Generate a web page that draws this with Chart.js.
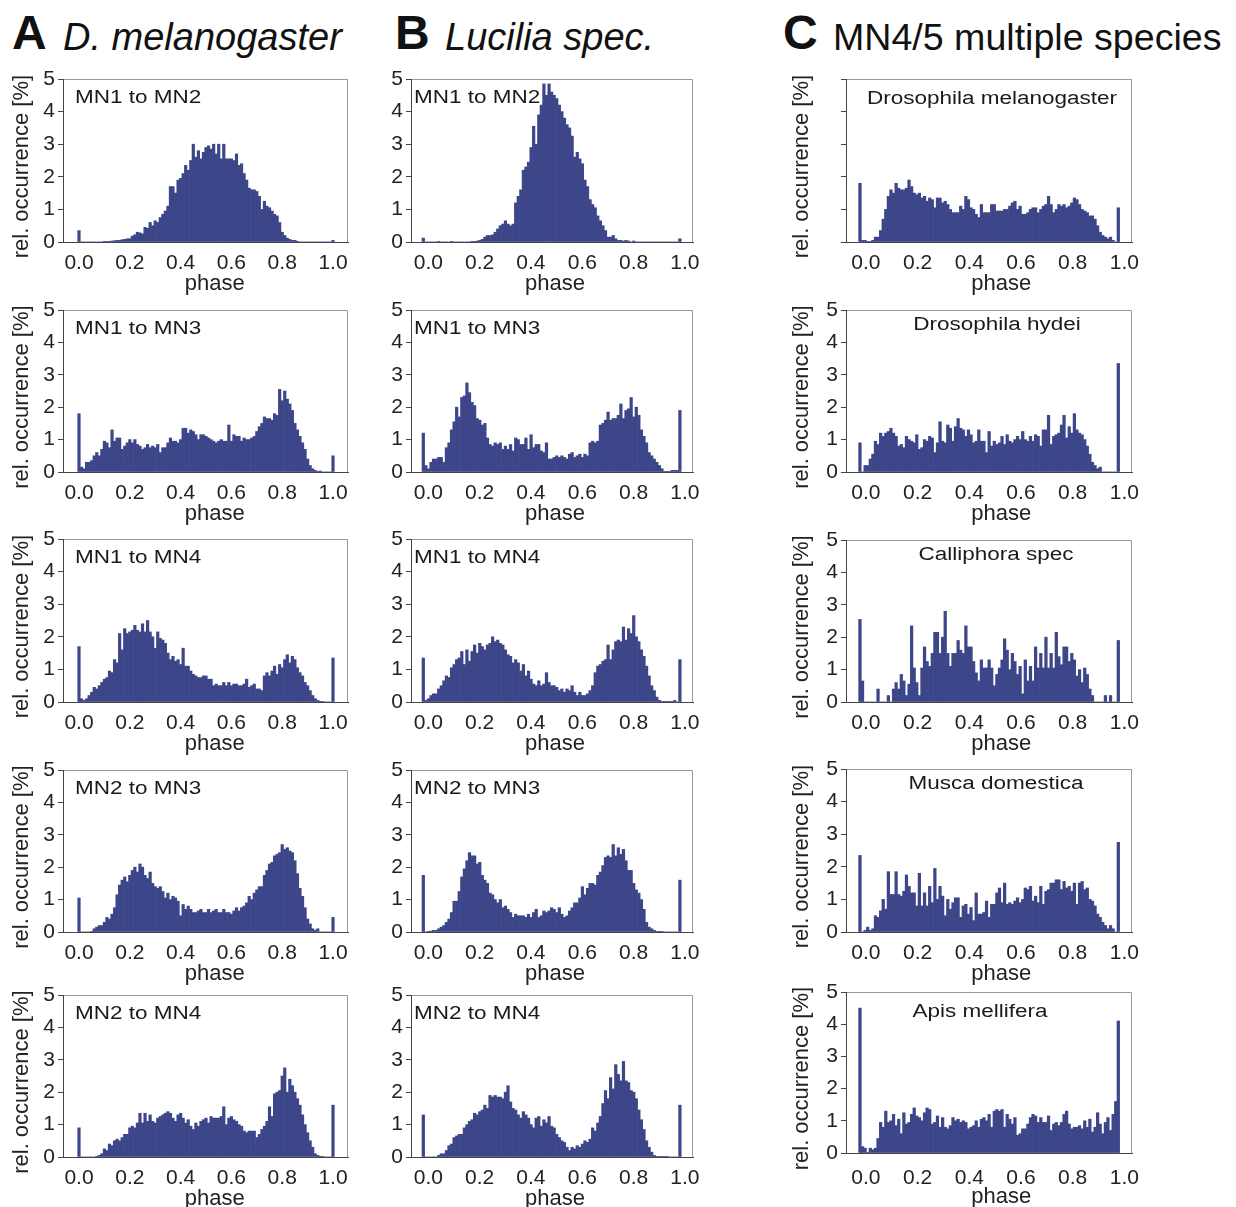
<!DOCTYPE html>
<html lang="en">
<head>
    <meta charset="UTF-8">
    <title>Phase histograms</title>
    <script src="https://cdn.jsdelivr.net/npm/chart.js"></script>
    <style>
        body { margin: 0; background: #fff; }
        #fig { position: relative; width: 1236px; height: 1207px; overflow: hidden; font-family: 'Liberation Sans', Arial, sans-serif; color: #111; }
        .letter { position: absolute; top: 9px; font-size: 48px; line-height: 48px; font-weight: bold; }
        .head { position: absolute; top: 18px; font-size: 38px; line-height: 38px; white-space: nowrap; }
    </style>
</head>
<body>
<div id="fig">
    <div class="letter" style="left:12px">A</div>
    <div class="head" style="left:63px"><i>D. melanogaster</i></div>
    <div class="letter" style="left:395px">B</div>
    <div class="head" style="left:445px"><i>Lucilia spec.</i></div>
    <div class="letter" style="left:783px">C</div>
    <div class="head" style="left:833px;font-size:37.6px">MN4/5 multiple species</div>
</div>

<script>
    // phase bins: 0.00 ... 1.00, one bar per 0.01
    const phaseBins = Array.from({ length: 101 }, (_, i) => i / 100);
    const xTicks = [0, 0.2, 0.4, 0.6, 0.8, 1.0];
    const yTicks = [0, 1, 2, 3, 4, 5];

    // rel. occurrence [%] per bin
    // column A: D. melanogaster
    const dmelMN1toMN2 = [
        0.35, 0, 0, 0, 0, 0, 0, 0, 0, 0,
        0.02, 0.02, 0.02, 0.03, 0.04, 0.05, 0.05, 0.07, 0.08, 0.1,
        0.1, 0.18, 0.22, 0.3, 0.28, 0.25, 0.45, 0.42, 0.6, 0.5,
        0.65, 0.6, 0.75, 0.85, 0.95, 1.1, 1.7, 1.7, 1.5, 1.9,
        1.95, 2.1, 2.35, 2.2, 2.5, 3.0, 2.6, 2.8, 2.55, 2.75,
        2.9, 2.95, 2.85, 3.0, 2.7, 3.0, 2.55, 3.0, 2.55, 2.55,
        2.55, 2.5, 2.7, 2.35, 2.4, 2.1, 1.9, 1.65, 1.6, 1.6,
        1.55, 1.4, 1.0, 1.25, 1.1, 1.05, 0.95, 0.85, 0.8, 0.6,
        0.3, 0.2, 0.12, 0.08, 0.05, 0.05, 0.02, 0, 0, 0,
        0, 0, 0, 0, 0, 0, 0, 0, 0, 0,
        0.05];
    const dmelMN1toMN3 = [
        1.8, 0.15, 0.1, 0.3, 0.3, 0.35, 0.5, 0.6, 0.5, 0.7,
        0.95, 0.9, 0.75, 1.3, 0.95, 1.05, 1.05, 0.7, 0.8, 0.9,
        1.0, 0.9, 1.0, 0.85, 0.8, 0.7, 0.75, 0.85, 0.75, 0.8,
        0.75, 0.85, 0.6, 0.75, 0.75, 0.9, 1.05, 0.95, 0.95, 0.9,
        1.0, 1.35, 1.35, 1.2, 1.3, 1.25, 1.15, 1.0, 1.15, 1.15,
        1.1, 1.05, 1.0, 0.95, 0.9, 0.95, 1.0, 0.95, 0.95, 1.45,
        0.95, 1.15, 1.1, 1.1, 0.95, 1.05, 1.0, 1.0, 1.05, 1.1,
        1.25, 1.4, 1.5, 1.7, 1.65, 1.65, 1.6, 1.8, 1.75, 2.55,
        2.2, 2.5, 2.25, 2.1, 1.9, 1.5, 1.3, 1.1, 0.9, 0.7,
        0.4, 0.2, 0.1, 0.05, 0.02, 0.03, 0, 0, 0, 0,
        0.5];
    const dmelMN1toMN4 = [
        1.7, 0.1, 0.05, 0.1, 0.2, 0.3, 0.45, 0.4, 0.5, 0.6,
        0.7, 0.75, 0.95, 0.9, 1.3, 1.2, 2.1, 1.6, 2.25, 2.1,
        2.15, 2.2, 2.35, 2.2, 2.15, 2.4, 2.15, 2.5, 2.15, 2.0,
        1.65, 2.15, 1.95, 1.9, 1.8, 1.5, 1.3, 1.4, 1.25, 1.3,
        1.15, 1.65, 1.1, 1.1, 0.95, 0.85, 0.8, 0.75, 0.75, 0.8,
        0.8, 0.7, 0.7, 0.5, 0.55, 0.5, 0.5, 0.6, 0.5, 0.6,
        0.5, 0.55, 0.55, 0.5, 0.5, 0.55, 0.7, 0.45, 0.5, 0.55,
        0.4, 0.4, 0.35, 0.8, 0.9, 0.8, 0.95, 1.1, 0.85, 1.15,
        1.05, 1.3, 1.45, 1.2, 1.4, 1.3, 1.05, 0.9, 0.8, 0.6,
        0.5, 0.35, 0.2, 0.1, 0.05, 0.02, 0.02, 0, 0, 0,
        1.35];
    const dmelMN2toMN3 = [
        1.05, 0, 0, 0, 0, 0.02, 0.1, 0.15, 0.2, 0.2,
        0.3, 0.45, 0.4, 0.55, 0.75, 1.15, 1.45, 1.6, 1.7, 1.55,
        1.75, 1.9, 2.0, 1.85, 2.1, 2.0, 1.75, 1.65, 1.85, 1.5,
        1.4, 1.35, 1.4, 1.25, 1.05, 1.2, 1.0, 1.1, 1.05, 0.95,
        0.5, 0.85, 0.7, 0.8, 0.7, 0.6, 0.6, 0.65, 0.7, 0.6,
        0.6, 0.7, 0.6, 0.65, 0.7, 0.6, 0.6, 0.7, 0.6, 0.6,
        0.55, 0.65, 0.75, 0.65, 0.75, 0.8, 0.9, 1.1, 1.0, 1.2,
        1.3, 1.4, 1.4, 1.75, 1.9, 2.1, 2.15, 2.35, 2.4, 2.45,
        2.7, 2.55, 2.6, 2.5, 2.45, 2.2, 1.8, 1.35, 1.1, 0.75,
        0.4, 0.25, 0.1, 0.05, 0.1, 0, 0, 0, 0, 0,
        0.45];
    const dmelMN2toMN4 = [
        0.9, 0, 0, 0, 0, 0, 0, 0.02, 0.05, 0.1,
        0.25, 0.2, 0.4, 0.35, 0.5, 0.55, 0.5, 0.6, 0.7, 0.7,
        0.9, 0.95, 0.9, 1.05, 1.35, 1.05, 1.35, 1.1, 1.3, 1.1,
        1.05, 1.2, 1.25, 1.3, 1.35, 1.4, 1.35, 1.2, 1.1, 1.3,
        1.35, 1.2, 1.05, 1.15, 0.95, 0.85, 1.05, 0.95, 1.1, 1.15,
        1.2, 1.05, 1.25, 1.2, 1.2, 1.2, 1.25, 1.55, 1.0, 1.2,
        1.25, 1.15, 1.1, 1.0, 0.95, 0.8, 0.75, 0.8, 0.8, 0.8,
        0.6, 0.7, 0.85, 0.95, 1.1, 1.55, 1.25, 1.95, 2.0, 2.05,
        2.5, 2.75, 2.0, 2.4, 2.2, 2.0, 1.8, 1.6, 1.3, 1.0,
        0.75, 0.5, 0.3, 0.1, 0.05, 0.02, 0.02, 0, 0, 0,
        1.6];

    // column B: Lucilia spec.
    const lucMN1toMN2 = [
        0.12, 0, 0, 0, 0, 0, 0.02, 0, 0, 0,
        0, 0.02, 0, 0, 0, 0, 0, 0, 0, 0.02,
        0.02, 0.03, 0.05, 0.08, 0.15, 0.2, 0.2, 0.22, 0.3, 0.4,
        0.5, 0.55, 0.65, 0.55, 0.5, 0.55, 1.2, 1.4, 1.6, 2.2,
        2.3, 2.45, 2.9, 3.55, 3.0, 3.9, 4.2, 4.85, 4.5, 4.85,
        4.6, 4.5, 4.4, 4.2, 4.0, 3.8, 3.6, 3.5, 3.25, 2.6,
        2.75, 2.55, 2.4, 1.9, 1.7, 1.3, 1.15, 1.05, 0.8, 0.65,
        0.5, 0.35, 0.15, 0.15, 0.2, 0.1, 0.05, 0.05, 0.03, 0.05,
        0.03, 0, 0.03, 0, 0, 0, 0, 0, 0, 0,
        0, 0, 0, 0, 0, 0, 0, 0, 0, 0,
        0.1];
    const lucMN1toMN3 = [
        1.2, 0.2, 0.1, 0.3, 0.4, 0.4, 0.45, 0.45, 0.3, 0.75,
        0.9, 1.3, 1.55, 2.0, 1.7, 2.3, 2.35, 2.75, 2.45, 2.15,
        2.05, 1.65, 1.6, 1.45, 1.5, 1.05, 0.85, 0.8, 0.9, 0.85,
        0.9, 0.7, 0.8, 0.7, 0.85, 0.65, 1.05, 1.0, 0.85, 0.85,
        1.05, 0.7, 1.15, 0.75, 0.85, 0.85, 0.65, 0.6, 0.9, 0.4,
        0.4, 0.45, 0.5, 0.45, 0.5, 0.45, 0.4, 0.55, 0.6, 0.45,
        0.5, 0.55, 0.45, 0.55, 0.5, 0.9, 0.95, 0.9, 0.95, 1.45,
        1.5, 1.6, 1.85, 1.6, 1.65, 1.65, 1.75, 2.1, 1.65, 1.9,
        1.95, 2.3, 1.7, 2.0, 1.75, 1.3, 1.1, 0.9, 0.6, 0.5,
        0.4, 0.3, 0.2, 0.1, 0.02, 0.02, 0.02, 0.05, 0.05, 0.05,
        1.9];
    const lucMN1toMN4 = [
        1.35, 0.05, 0.1, 0.2, 0.25, 0.25, 0.4, 0.5, 0.65, 0.8,
        0.75, 1.05, 1.15, 1.3, 1.35, 1.55, 1.15, 1.6, 1.25, 1.55,
        1.75, 1.5, 1.8, 1.7, 1.6, 1.75, 1.8, 2.0, 1.85, 1.9,
        1.8, 1.75, 1.6, 1.45, 1.4, 1.2, 1.3, 1.2, 0.95, 1.15,
        0.8, 0.95, 0.7, 0.55, 0.5, 0.65, 0.5, 0.55, 0.9, 0.6,
        0.5, 0.5, 0.45, 0.35, 0.4, 0.3, 0.4, 0.35, 0.5, 0.3,
        0.2, 0.3, 0.2, 0.2, 0.25, 0.35, 0.5, 0.9, 1.1, 1.15,
        1.25, 1.3, 1.75, 1.3, 1.6, 1.85, 1.9, 1.85, 2.3, 1.9,
        2.25, 2.1, 2.65, 2.0, 1.85, 1.6, 1.4, 1.1, 0.8, 0.5,
        0.35, 0.15, 0.05, 0.02, 0.02, 0.02, 0.02, 0.02, 0.05, 0,
        1.3];
    const lucMN2toMN3 = [
        1.75, 0, 0.02, 0.03, 0.05, 0.05, 0.1, 0.15, 0.2, 0.3,
        0.4, 0.6, 0.95, 0.95, 1.25, 1.7, 1.95, 2.2, 2.45, 2.35,
        2.35, 2.1, 2.15, 1.75, 1.6, 1.5, 1.2, 1.15, 1.0, 0.9,
        1.0, 0.75, 0.8, 0.7, 0.6, 0.45, 0.55, 0.5, 0.5, 0.5,
        0.45, 0.55, 0.45, 0.6, 0.7, 0.45, 0.5, 0.65, 0.6, 0.65,
        0.75, 0.7, 0.6, 0.75, 0.55, 0.45, 0.5, 0.65, 0.75, 0.9,
        0.9, 1.05, 1.4, 1.15, 1.35, 1.5, 1.5, 1.45, 1.75, 1.85,
        2.05, 2.3, 2.35, 2.3, 2.7, 2.35, 2.6, 2.4, 2.55, 2.2,
        1.9, 1.9, 1.5, 1.3, 1.2, 1.0, 0.7, 0.3, 0.15, 0.1,
        0.05, 0.02, 0.02, 0.02, 0, 0, 0, 0, 0, 0,
        1.6];
    const lucMN2toMN4 = [
        1.3, 0, 0, 0, 0, 0, 0.05, 0.1, 0.1, 0.2,
        0.35, 0.4, 0.6, 0.65, 0.7, 0.7, 0.9, 1.0, 1.1, 1.15,
        1.35, 1.3, 1.4, 1.45, 1.6, 1.5, 1.9, 1.85, 1.9, 1.85,
        1.85, 1.8, 2.0, 2.2, 1.7, 1.5, 1.45, 1.3, 1.2, 1.4,
        1.3, 1.2, 1.0, 0.9, 1.2, 1.25, 0.95, 1.15, 1.05, 1.25,
        0.95, 0.9, 0.7, 0.6, 0.5, 0.45, 0.3, 0.2, 0.3, 0.25,
        0.35, 0.3, 0.4, 0.5, 0.45, 0.55, 0.9, 0.8, 1.05, 1.25,
        1.65, 2.05, 1.8, 2.45, 2.1, 2.85, 2.55, 2.35, 2.95, 2.35,
        2.3, 2.05, 2.0, 1.8, 1.45, 1.15, 0.85, 0.5, 0.3, 0.15,
        0.05, 0.02, 0.02, 0.02, 0.02, 0.02, 0, 0, 0, 0,
        1.6];

    // column C: MN4/5 in multiple species
    const droMelanogaster = [
        1.8, 0.05, 0.05, 0.02, 0.02, 0.05, 0.15, 0.15, 0.35, 0.7,
        1.0, 1.4, 1.6, 1.5, 1.8, 1.65, 1.6, 1.6, 1.65, 1.9,
        1.7, 1.5, 1.45, 1.5, 1.35, 1.4, 1.25, 1.35, 1.3, 1.05,
        1.35, 1.35, 1.2, 1.25, 1.15, 1.0, 0.9, 0.9, 0.9, 1.1,
        1.0, 1.4, 1.3, 1.05, 1.0, 0.85, 0.75, 1.15, 0.9, 0.9,
        0.9, 1.15, 1.15, 0.95, 0.95, 0.95, 1.0, 1.0, 1.1, 1.2,
        1.25, 1.0, 1.1, 0.85, 0.85, 0.9, 1.0, 1.05, 1.05, 0.9,
        1.0, 1.1, 1.15, 1.4, 1.15, 0.9, 1.0, 1.15, 1.1, 1.15,
        1.05, 1.1, 1.2, 1.35, 1.3, 1.15, 1.0, 0.95, 0.9, 0.8,
        0.8, 0.7, 0.5, 0.3, 0.2, 0.15, 0.1, 0.15, 0.05, 0,
        1.05];
    const droHydei = [
        0.9, 0, 0.2, 0.2, 0.4, 0.55, 0.95, 0.85, 1.2, 1.1,
        1.2, 1.25, 1.35, 1.2, 1.1, 0.8, 0.85, 0.75, 1.1, 1.0,
        0.95, 0.9, 1.15, 0.7, 0.75, 1.0, 0.95, 1.1, 1.05, 0.6,
        0.9, 1.55, 0.95, 0.9, 1.45, 1.35, 0.95, 1.4, 1.65, 1.35,
        1.3, 1.1, 1.3, 1.15, 0.9, 0.95, 1.3, 0.95, 0.95, 0.6,
        1.25, 0.8, 0.95, 0.85, 0.9, 1.1, 0.85, 1.15, 0.95, 0.9,
        1.0, 1.1, 1.0, 1.25, 1.0, 0.95, 1.1, 0.95, 1.15, 1.1,
        0.8, 1.3, 1.3, 1.75, 0.85, 1.1, 1.15, 1.2, 1.45, 1.75,
        1.05, 1.4, 1.2, 1.8, 1.3, 1.2, 1.15, 1.0, 0.8, 0.55,
        0.3, 0.2, 0.1, 0.15, 0, 0, 0, 0, 0, 0,
        3.35];
    const calliphora = [
        2.55, 0.65, 0, 0, 0, 0, 0, 0.4, 0, 0,
        0, 0.2, 0, 0.4, 0.6, 0.4, 0.85, 0.65, 0.2, 0.55,
        2.35, 1.05, 0.6, 0.2, 1.05, 1.7, 1.25, 1.1, 1.5, 2.15,
        2.15, 1.5, 2.0, 2.8, 1.5, 1.1, 1.5, 1.5, 1.9, 1.6,
        1.5, 2.35, 1.7, 1.7, 1.25, 0.9, 0.65, 1.3, 1.05, 1.05,
        1.3, 1.05, 0.5, 0.85, 1.05, 1.3, 1.95, 1.6, 1.0, 1.5,
        1.25, 0.85, 1.1, 0.25, 1.3, 0.65, 1.1, 0.65, 1.7, 1.05,
        1.5, 1.05, 2.0, 1.05, 1.5, 1.05, 2.15, 1.4, 1.15, 1.7,
        1.7, 1.25, 1.5, 1.3, 0.8, 1.0, 0.6, 1.05, 0.85, 0.4,
        0.2, 0, 0, 0, 0, 0.2, 0, 0.2, 0, 0,
        1.9];
    const musca = [
        2.35, 0, 0.05, 0.15, 0.05, 0.1, 0.5, 0.45, 0.65, 1.0,
        0.7, 1.85, 1.15, 1.15, 1.85, 1.15, 1.1, 1.25, 1.75, 1.4,
        1.2, 1.2, 0.8, 1.8, 0.8, 1.2, 0.8, 1.4, 0.9, 1.95,
        1.0, 1.4, 1.1, 0.5, 1.0, 0.7, 0.9, 1.05, 1.05, 0.45,
        0.8, 0.85, 0.55, 0.75, 0.35, 1.2, 0.55, 0.55, 0.6, 0.95,
        0.45, 0.85, 0.85, 1.2, 1.35, 0.9, 1.5, 0.85, 0.9, 0.85,
        0.95, 1.05, 0.9, 1.0, 1.35, 1.3, 1.4, 0.95, 1.1, 0.9,
        1.4, 0.85, 1.25, 1.3, 1.5, 1.5, 1.6, 1.6, 1.3, 1.55,
        1.35, 1.4, 1.25, 1.5, 0.85, 1.5, 1.55, 1.3, 1.35, 1.0,
        0.95, 0.8, 0.55, 0.45, 0.3, 0.2, 0.1, 0.2, 0.1, 0,
        2.75];
    const apis = [
        4.5, 0.2, 0.15, 0.02, 0.15, 0.1, 0.15, 0.45, 0.95, 0.8,
        1.3, 0.95, 1.0, 1.2, 0.85, 1.05, 0.6, 1.25, 0.9, 0.95,
        1.2, 1.4, 1.15, 1.1, 1.0, 1.25, 1.4, 1.35, 0.9, 0.95,
        1.15, 0.8, 1.1, 0.8, 0.75, 0.85, 1.1, 1.0, 1.05, 0.95,
        1.0, 0.95, 0.75, 0.8, 0.85, 1.0, 0.8, 1.05, 1.1, 1.0,
        1.2, 0.8, 1.3, 1.35, 1.3, 1.35, 0.8, 1.2, 1.05, 0.9,
        1.1, 0.55, 0.6, 0.75, 0.75, 0.9, 1.1, 1.2, 1.15, 0.95,
        1.1, 0.95, 0.95, 1.15, 0.7, 0.9, 0.95, 0.85, 0.95, 1.2,
        1.3, 0.9, 0.75, 0.8, 0.8, 0.85, 0.75, 1.0, 0.8, 1.05,
        0.65, 0.8, 1.25, 0.9, 0.6, 0.95, 1.1, 0.7, 1.2, 1.6,
        4.1];

    // layout of the three columns (plot frame in page pixels)
    const columns = {
        A: { left: 63, right: 348, axisWidth: 63, xMin: -0.063, xMax: 1.059, labelOffset: 0, phaseShift: 3, yTitle: true,
             rows: [[79, 242], [310, 472], [539, 702], [770, 932], [995, 1157]] },
        B: { left: 411, right: 693, axisWidth: 40, xMin: -0.048, xMax: 1.051, labelOffset: 5, phaseShift: 1, yTitle: false,
             rows: [[79, 242], [310, 472], [539, 702], [770, 932], [995, 1157]] },
        C: { left: 846, right: 1132, axisWidth: 66, xMin: -0.054, xMax: 1.053, labelOffset: 6, phaseShift: 4, yTitle: true,
             rows: [[79, 242], [310, 472], [540, 702], [769, 932], [992, 1153]] }
    };

    const panels = [
        { col: 'A', row: 0, label: 'MN1 to MN2', values: dmelMN1toMN2 },
        { col: 'A', row: 1, label: 'MN1 to MN3', values: dmelMN1toMN3 },
        { col: 'A', row: 2, label: 'MN1 to MN4', values: dmelMN1toMN4 },
        { col: 'A', row: 3, label: 'MN2 to MN3', values: dmelMN2toMN3 },
        { col: 'A', row: 4, label: 'MN2 to MN4', values: dmelMN2toMN4 },
        { col: 'B', row: 0, label: 'MN1 to MN2', values: lucMN1toMN2 },
        { col: 'B', row: 1, label: 'MN1 to MN3', values: lucMN1toMN3 },
        { col: 'B', row: 2, label: 'MN1 to MN4', values: lucMN1toMN4 },
        { col: 'B', row: 3, label: 'MN2 to MN3', values: lucMN2toMN3 },
        { col: 'B', row: 4, label: 'MN2 to MN4', values: lucMN2toMN4 },
        { col: 'C', row: 0, label: 'Drosophila melanogaster', values: droMelanogaster, hideY: true, dx: 3, dy: 25 },
        { col: 'C', row: 1, label: 'Drosophila hydei', values: droHydei, dx: 8, dy: 20 },
        { col: 'C', row: 2, label: 'Calliphora spec', values: calliphora, dx: 7, dy: 20 },
        { col: 'C', row: 3, label: 'Musca domestica', values: musca, dx: 7, dy: 20 },
        { col: 'C', row: 4, label: 'Apis mellifera', values: apis, dx: -9, dy: 25, tickPad: 5, titlePad: 5 }
    ];

    const BAR_COLOR = '#3c4689';
    const AXIS_COLOR = '#444';
    const FRAME_COLOR = '#999';
    const PAD_TOP = 14, PAD_RIGHT = 18, AXIS_HEIGHT = 62;

    Chart.defaults.font.family = "'Liberation Sans', Arial, sans-serif";
    Chart.defaults.color = '#222';

    // top/right frame lines and the panel caption inside the plot
    const panelDecor = {
        id: 'panelDecor',
        afterDatasetsDraw(chart, args, opts) {
            const { ctx, chartArea: a } = chart;
            ctx.save();
            ctx.strokeStyle = FRAME_COLOR;
            ctx.lineWidth = 1;
            ctx.beginPath();
            ctx.moveTo(a.left, a.top + 0.5);
            ctx.lineTo(a.right - 0.5, a.top + 0.5);
            ctx.lineTo(a.right - 0.5, a.bottom);
            ctx.stroke();

            const x = opts.center ? (a.left + a.right) / 2 + opts.dx : a.left + opts.dx;
            ctx.translate(x, a.top + opts.dy);
            ctx.scale(1.25, 1);
            ctx.font = "18px 'Liberation Sans', Arial, sans-serif";
            ctx.fillStyle = '#1a1a1a';
            ctx.textAlign = opts.center ? 'center' : 'left';
            ctx.textBaseline = 'alphabetic';
            ctx.fillText(opts.text, 0, 0);
            ctx.restore();
        }
    };

    const fig = document.getElementById('fig');

    panels.forEach(p => {
        const col = columns[p.col];
        const [top, bottom] = col.rows[p.row];
        const w = col.right - col.left + col.axisWidth + PAD_RIGHT;
        const h = bottom - top + PAD_TOP + AXIS_HEIGHT;

        const canvas = document.createElement('canvas');
        canvas.width = w;
        canvas.height = h;
        canvas.style.cssText = `position:absolute;left:${col.left - col.axisWidth}px;top:${top - PAD_TOP}px;width:${w}px;height:${h}px`;
        fig.appendChild(canvas);

        new Chart(canvas, {
            type: 'bar',
            data: {
                datasets: [{
                    data: p.values.map((v, i) => ({ x: phaseBins[i], y: v })),
                    backgroundColor: BAR_COLOR,
                    borderWidth: 0,
                    barPercentage: 1,
                    categoryPercentage: 1
                }]
            },
            options: {
                responsive: false,
                animation: false,
                layout: { padding: { top: PAD_TOP, right: PAD_RIGHT, left: 0, bottom: 0 } },
                plugins: {
                    legend: { display: false },
                    tooltip: { enabled: false },
                    panelDecor: {
                        text: p.label,
                        center: p.col === 'C',
                        dx: p.col === 'A' ? 12 : (p.col === 'B' ? 3 : p.dx),
                        dy: p.col === 'C' ? p.dy : 24
                    }
                },
                scales: {
                    x: {
                        type: 'linear',
                        min: col.xMin,
                        max: col.xMax,
                        offset: false,
                        grid: { display: false, offset: false },
                        border: { display: true, color: AXIS_COLOR, z: 1 },
                        afterBuildTicks: s => { s.ticks = xTicks.map(v => ({ value: v })); },
                        afterFit: s => { s.height = AXIS_HEIGHT; s.paddingLeft = 0; s.paddingRight = 0; },
                        ticks: {
                            font: { size: 21 },
                            padding: p.tickPad || 1,
                            maxRotation: 0,
                            autoSkip: false,
                            labelOffset: col.labelOffset,
                            callback: v => v.toFixed(1)
                        },
                        title: {
                            display: true,
                            // leading spaces push the centred word right, as in the figure
                            text: ' '.repeat(col.phaseShift) + 'phase',
                            font: { size: 22 },
                            padding: { top: 0, bottom: p.titlePad || 7 }
                        }
                    },
                    y: {
                        min: 0,
                        max: 5,
                        grid: { display: true, drawOnChartArea: false, tickLength: 5, color: AXIS_COLOR },
                        border: { display: true, color: AXIS_COLOR, z: 1 },
                        afterBuildTicks: s => { s.ticks = yTicks.map(v => ({ value: v })); },
                        afterFit: s => { s.width = col.axisWidth; s.paddingTop = 0; s.paddingBottom = 0; },
                        ticks: {
                            font: { size: 21 },
                            padding: 3,
                            callback: v => (p.hideY ? '' : String(v))
                        },
                        title: {
                            display: col.yTitle,
                            // trailing spaces nudge the centred title down a little
                            text: 'rel. occurrence [%]  ',
                            font: { size: 22 },
                            padding: { top: 9, bottom: 0 }
                        }
                    }
                }
            },
            plugins: [panelDecor]
        });
    });
</script>
</body>
</html>
